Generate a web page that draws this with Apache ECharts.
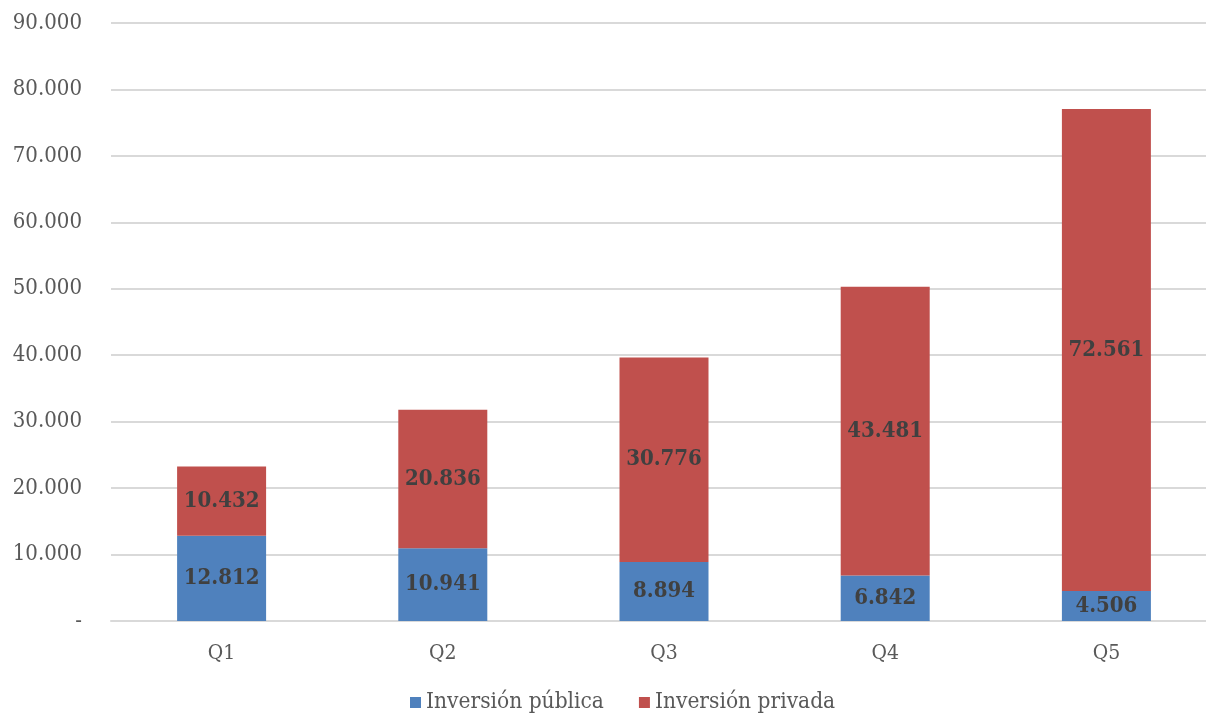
<!DOCTYPE html>
<html>
<head>
<meta charset="utf-8">
<script src="https://cdn.jsdelivr.net/npm/echarts@6/dist/echarts.min.js"></script>
<style>
  html, body { margin: 0; padding: 0; background: #fff; overflow: hidden; }
  #chart { width: 1206px; height: 715px; }
</style>
</head>
<body>
<div id="chart"></div>
<script>
// Quintiles and investment amounts
const categories = ['Q1', 'Q2', 'Q3', 'Q4', 'Q5'];
const inversionPublica = [12812, 10941, 8894, 6842, 4506];
const inversionPrivada = [10432, 20836, 30776, 43481, 72561];
const seriesNames = ['Inversión pública', 'Inversión privada'];

const FONT = '"DejaVu Serif Condensed", "DejaVu Serif", serif';

// Thousands separator with a dot; zero is shown as a dash
function fmt(v) {
  if (v === 0) return '-';
  return String(Math.round(v)).replace(/\B(?=(\d{3})+(?!\d))/g, '.');
}

const labelStyle = {
  show: true,
  position: 'inside',
  fontFamily: FONT,
  fontWeight: 'bold',
  fontSize: 22,
  color: '#404040',
  formatter: p => fmt(p.value)
};

const chart = echarts.init(document.getElementById('chart'), null, { renderer: 'canvas' });
chart.setOption({
  animation: false,
  // plot area runs slightly past the right edge of the canvas
  grid: { left: 111, width: 1106, top: 23, bottom: 94, containLabel: false, outerBoundsMode: 'none' },
  legend: {
    bottom: -4,
    left: 405,
    itemWidth: 11,
    itemHeight: 11,
    itemGap: 35,
    icon: 'rect',
    textStyle: { fontFamily: FONT, fontSize: 22.5, color: '#595959' },
    data: seriesNames
  },
  xAxis: {
    type: 'category',
    data: categories,
    axisLine: { lineStyle: { color: '#d9d9d9', width: 2 } },
    axisTick: { show: false },
    axisLabel: { fontFamily: FONT, fontSize: 21, color: '#595959', margin: 22 }
  },
  yAxis: {
    type: 'value',
    min: 0,
    max: 90000,
    interval: 10000,
    axisLine: { show: false },
    axisTick: { show: false },
    splitLine: { lineStyle: { color: '#d9d9d9', width: 2 } },
    axisLabel: {
      fontFamily: FONT, fontSize: 22, color: '#595959', margin: 29,
      formatter: v => fmt(v)
    }
  },
  series: [
    {
      name: seriesNames[0],
      type: 'bar',
      stack: 'total',
      barWidth: 89,
      data: inversionPublica,
      itemStyle: { color: '#4F81BD' },
      label: labelStyle
    },
    {
      name: seriesNames[1],
      type: 'bar',
      stack: 'total',
      barWidth: 89,
      data: inversionPrivada,
      itemStyle: { color: '#C0504D' },
      label: labelStyle
    }
  ]
});
</script>
</body>
</html>
